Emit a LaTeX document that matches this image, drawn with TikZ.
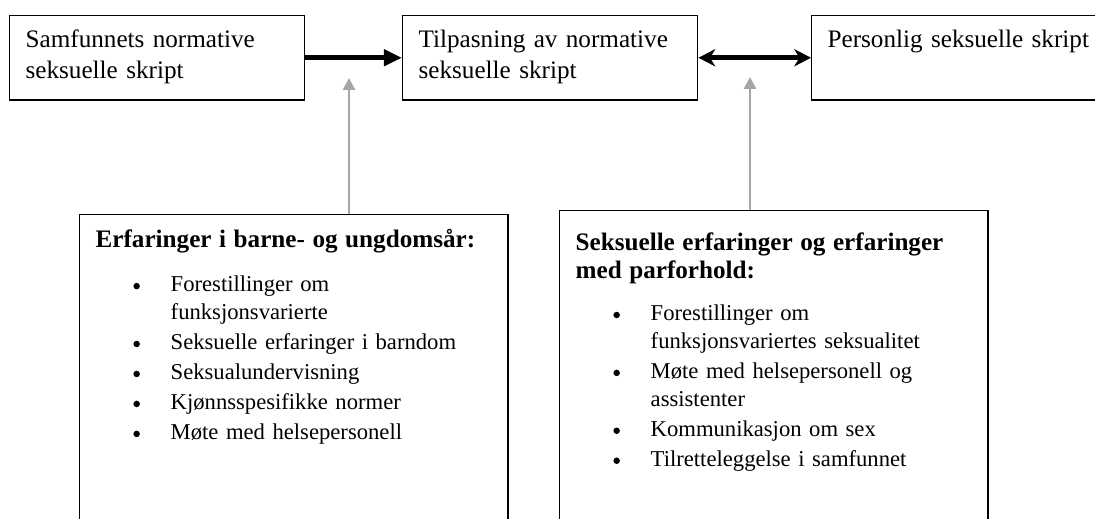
\documentclass[tikz,border=0pt]{standalone}
\usepackage{fontspec}
\setmainfont{Liberation Serif}
\usepackage{tikz}
\usepackage{xcolor}
\usetikzlibrary{arrows.meta, positioning}

\definecolor{pilgraa}{HTML}{A6A6A6}

% bullet line with hanging indent
\newcommand{\prikk}{\raisebox{1pt}{\tikz\fill[black] (0, 0) circle (1.55pt);}}
\newcommand{\punkt}[1]{\par\vspace{1pt}\hangindent=35.8pt\hangafter=0\noindent\llap{\makebox[17.8pt][l]{\prikk}}#1\par}

\begin{document}
\begin{tikzpicture}[x=0.477pt, y=-0.477pt,
        skript/.style={draw, line width=0.7pt, anchor=north west, align=left,
            font=\fontsize{12}{14.8}\selectfont, inner xsep=7.6pt, inner ysep=0pt,
            text width=125.5pt, text height=15.3pt, text depth=24.8pt},
        erfaring/.style={draw, line width=0.7pt, anchor=north west, align=left,
            font=\fontsize{10.8}{13.3}\selectfont, inner xsep=7.6pt, inner ysep=0pt,
            text width=189pt},
        tittel/.style={},
        svartpil/.style={line width=2.2pt},
        graapil/.style={pilgraa, line width=1.4pt, -{Triangle[length=5.7pt, width=5.7pt]}}]
        \useasboundingbox (0, 0) rectangle (1095, 519);
        \clip (0, 0) rectangle (1095, 519);

        \node[skript] (samfunn) at (9, 15) {Samfunnets normative\\seksuelle skript};
        \node[skript] (tilpasning) at (402, 15) {Tilpasning av normative\\seksuelle skript};
        \node[skript, text width=127.9pt] (personlig) at (811, 15) {Personlig seksuelle skript};

        \node[erfaring, text height=15.7pt, text depth=139.8pt] (barndom) at (79, 214) {%
            {\fontsize{12}{13.3}\selectfont\bfseries Erfaringer i barne- og ungdomsår:\par}\vspace{6.6pt}
            \punkt{Forestillinger om\newline funksjonsvarierte}
            \punkt{Seksuelle erfaringer i barndom}
            \punkt{Seksualundervisning}
            \punkt{Kjønnsspesifikke normer}
            \punkt{Møte med helsepersonell}};
        \node[erfaring, text height=19.1pt, text depth=138.3pt] (parforhold) at (559, 210) {%
            {\fontsize{12}{13.3}\selectfont\bfseries Seksuelle erfaringer og erfaringer\newline med parforhold:\par}\vspace{5.6pt}
            \punkt{Forestillinger om\newline funksjonsvariertes seksualitet}
            \punkt{Møte med helsepersonell og\newline assistenter}
            \punkt{Kommunikasjon om sex}
            \punkt{Tilretteleggelse i samfunnet}};

        \coordinate (tupp1) at (349, 78);
        \coordinate (tupp2) at (750, 77);

        \draw[svartpil, -{Triangle[length=8.6pt, width=7.6pt]}] (samfunn) -- (tilpasning);
        \draw[svartpil, {Stealth[length=8pt, width=8.2pt, inset=2.5pt]}-{Stealth[length=8pt, width=8.2pt, inset=2.5pt]}] (tilpasning) -- (personlig);

        \draw[graapil] (barndom.north -| tupp1) -- (tupp1);
        \draw[graapil] (parforhold.north -| tupp2) -- (tupp2);
    \end{tikzpicture}
\end{document}
